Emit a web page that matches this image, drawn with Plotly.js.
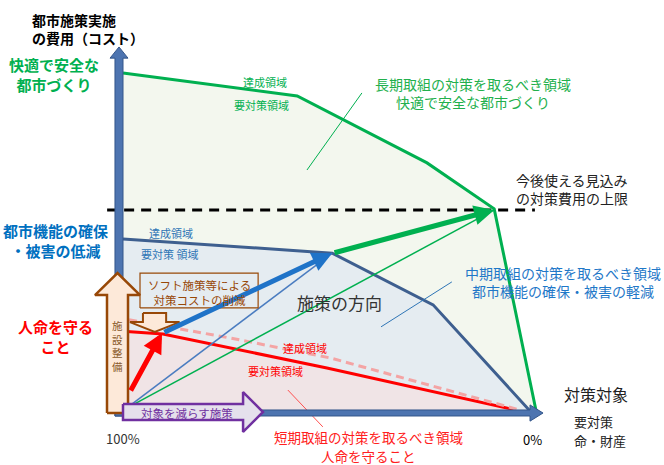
<!DOCTYPE html>
<html><head><meta charset="utf-8">
<script src="https://cdn.plot.ly/plotly-3.0.1.min.js"></script>
<style>html,body{margin:0;padding:0;background:#fff}#chart{width:664px;height:465px}</style>
</head><body><div id="chart"></div>
<script>
// x: 対策対象の削減（0 = 100%, 100 = 0%）, y: 都市施策実施の費用（コスト）
const greenX = [0, 42.8, 74.7, 91.2, 101.5];
const greenY = [100, 93.2, 73.4, 59.8, 0];
const blueX = [0, 51.4, 76.2, 100];
const blueY = [50.9, 46.7, 31.4, 0];
const redX = [0, 9.8, 50.1, 96];
const redY = [23.6, 22.8, 12.7, 0.4];
const pinkX = [1.5, 26.3, 50.9, 97.5];
const pinkY = [27, 21.6, 15.7, 0.3];
const budgetX = [-3.9, 101.2];
const budgetY = [59.5, 59.5];
// 施策の方向 (start, end)
const redArrow = [[1.7, 5.6], [9.6, 23.1]];
const blueArrow = [[9.8, 23.1], [51.4, 46.7]];
const greenArrow = [[51.6, 46.7], [91.2, 59.5]];
const thinBlueX = [0.8, 51.4], thinBlueY = [0.8, 46.7];
const thinGreenX = [0.8, 91.2], thinGreenY = [0.8, 59.5];
// block arrows / axes outlines
const vAxisX = [-1.97, 0, 0, 1.23, -0.98, -3.19, -1.97, -1.97];
const vAxisY = [-1.5, -1.5, 104.4, 104.4, 107.7, 104.4, 104.4, -1.5];
const hAxisX = [-1.97, 100, 100, 103.2, 100, 100, -1.97, -1.97];
const hAxisY = [0.3, 0.3, 1.8, -0.6, -3.0, -1.48, -1.48, 0.3];
const brownX = [-3.93, 1.23, 1.23, 4.18, -1.35, -6.88, -3.93, -3.93];
const brownY = [-0.6, -0.6, 34.3, 34.3, 40.8, 34.3, 34.3, -0.6];
const purpleX = [0, 29.5, 29.5, 34.4, 29.5, 29.5, 0, 0];
const purpleY = [2.1, 2.1, 5.6, -0.3, -6.2, -2.7, -2.7, 2.1];
const downX = [4.9, 10.6, 10.6, 13.9, 7.8, 1.7, 4.9, 4.9];
const downY = [29.0, 29.0, 26.3, 26.3, 23.4, 26.3, 26.3, 29.0];
const boxX = [4.18, 33.2, 33.2, 4.18, 4.18];
const boxY = [30.5, 30.5, 40.8, 40.8, 30.5];
const leaderG = [[58.7, 94.1], [45.2, 71.3]];
const leaderB = [[80.8, 38.2], [63.4, 24.9]];
const leaderR = [[40.5, 6.2], [49.1, -4.7]];

const F = '"Noto Sans CJK JP", "Noto Sans", sans-serif';
const G = '#00b050', B = '#0070c0', R = '#ff0000', BR = '#984807';

const traces = [
  {x: greenX, y: greenY, mode: 'lines', fill: 'tozeroy', fillcolor: '#f3f7ee', line: {color: G, width: 3}},
  {x: blueX, y: blueY, mode: 'lines', fill: 'tozeroy', fillcolor: '#e5ecf1', line: {color: '#3e5f8f', width: 3}},
  {x: redX, y: redY, mode: 'lines', fill: 'tozeroy', fillcolor: '#f0e4e6', line: {color: R, width: 3}},
  {x: pinkX, y: pinkY, mode: 'lines', line: {color: '#f4a4a4', width: 3, dash: '8px,5px'}},
  {x: budgetX, y: budgetY, mode: 'lines', line: {color: '#000', width: 3, dash: '10px,7px'}},
  {x: thinBlueX, y: thinBlueY, mode: 'lines', line: {color: '#4a7cc0', width: 1.5}},
  {x: thinGreenX, y: thinGreenY, mode: 'lines', line: {color: G, width: 1.5}},
  {x: leaderG.map(p => p[0]), y: leaderG.map(p => p[1]), mode: 'lines', line: {color: G, width: 1}},
  {x: leaderB.map(p => p[0]), y: leaderB.map(p => p[1]), mode: 'lines', line: {color: '#2e75b6', width: 1}},
  {x: leaderR.map(p => p[0]), y: leaderR.map(p => p[1]), mode: 'lines', line: {color: '#ff5050', width: 1}},
  {x: vAxisX, y: vAxisY, mode: 'lines', fill: 'toself', fillcolor: '#4d74b0', line: {color: '#34568a', width: 1}},
  {x: hAxisX, y: hAxisY, mode: 'lines', fill: 'toself', fillcolor: '#4d74b0', line: {color: '#34568a', width: 1}},
  {x: brownX, y: brownY, mode: 'lines', fill: 'toself', fillcolor: '#fde9d9', line: {color: BR, width: 2.5}},
  {x: purpleX, y: purpleY, mode: 'lines', fill: 'toself', fillcolor: '#e5e0ec', line: {color: '#7030a0', width: 2.5}},
  {x: downX, y: downY, mode: 'lines', fill: 'toself', fillcolor: '#fde9d9', line: {color: BR, width: 2}},
  {x: boxX, y: boxY, mode: 'lines', line: {color: BR, width: 1.2}}
];

const T = (text, x, y, color, size, extra) => Object.assign({
  text, x, y, xref: 'x', yref: 'y', showarrow: false, borderpad: 0,
  font: {family: F, size, color}
}, extra || {});
const A = (seg, color, w) => ({
  x: seg[1][0], y: seg[1][1], ax: seg[0][0], ay: seg[0][1], axref: 'x', ayref: 'y',
  xref: 'x', yref: 'y', text: '', showarrow: true, arrowhead: 2, arrowsize: 0.8,
  arrowwidth: w, arrowcolor: color, standoff: 0, startstandoff: 0
});
const L = {xanchor: 'left', align: 'left'};

const annotations = [
  A(redArrow, R, 5), A(blueArrow, '#1f73c8', 5), A(greenArrow, G, 5),
  T('<b>都市施策実施<br>の費用（コスト）</b>', -22.6, 113.0, '#000', 14, L),
  T('<b>快適で安全な<br>都市づくり</b>', -17.0, 99.7, G, 15),
  T('<b>都市機能の確保<br>・被害の低減</b>', -16.7, 50.3, B, 15),
  T('<b>人命を守る<br>こと</b>', -16.7, 22.0, R, 15),
  T('100%', 0, -8.0, '#333', 13),
  T('0%', 100.7, -8.3, '#000', 13),
  T('対策対象', 116.2, 5.0, '#222', 16),
  T('要対策', 110.6, -3.1, '#222', 13, L),
  T('命・財産', 110.6, -8.6, '#222', 13, L),
  T('今後使える見込み<br>の対策費用の上限', 96.3, 65.8, '#222', 14, L),
  T('長期取組の対策を取るべき領域<br>快適で安全な都市づくり', 85.9, 94.2, '#22b04c', 14),
  T('中期取組の対策を取るべき領域<br>都市機能の確保・被害の軽減', 108.0, 38.3, '#1f78c8', 14),
  T('短期取組の対策を取るべき領域', 60.4, -7.84, '#ff2020', 13.5),
  T('人命を守ること', 60.2, -13.31, '#ff2020', 13.5),
  T('施策の方向', 53.3, 32.2, '#333', 17),
  T('達成領域', 34.8, 97.3, G, 11),
  T('要対策領域', 34.0, 90.5, G, 11),
  T('達成領域', 11.9, 52.7, '#2e75b6', 11),
  T('要対策 領域', 11.5, 46.4, '#2e75b6', 11),
  T('達成領域', 44.7, 18.6, R, 11),
  T('要対策領域', 37.5, 11.8, R, 11),
  T('ソフト施策等による<br>対策コストの削減', 18.7, 35.1, BR, 11.5),
  T('施<br>設<br>整<br>備', -1.4, 19.1, '#8a5a2b', 10.5),
  T('対象を減らす施策', 15.7, -0.6, '#7030a0', 11.5)
];

const layout = {
  width: 664, height: 465,
  margin: {l: 0, r: 0, t: 0, b: 0, pad: 0},
  paper_bgcolor: '#fff', plot_bgcolor: '#fff',
  showlegend: false,
  xaxis: {range: [-30.22, 132.92], visible: false, fixedrange: true},
  yaxis: {range: [-15.98, 121.6], visible: false, fixedrange: true},
  annotations
};
Plotly.newPlot('chart', traces, layout, {staticPlot: true, displayModeBar: false});
</script>
</body></html>
